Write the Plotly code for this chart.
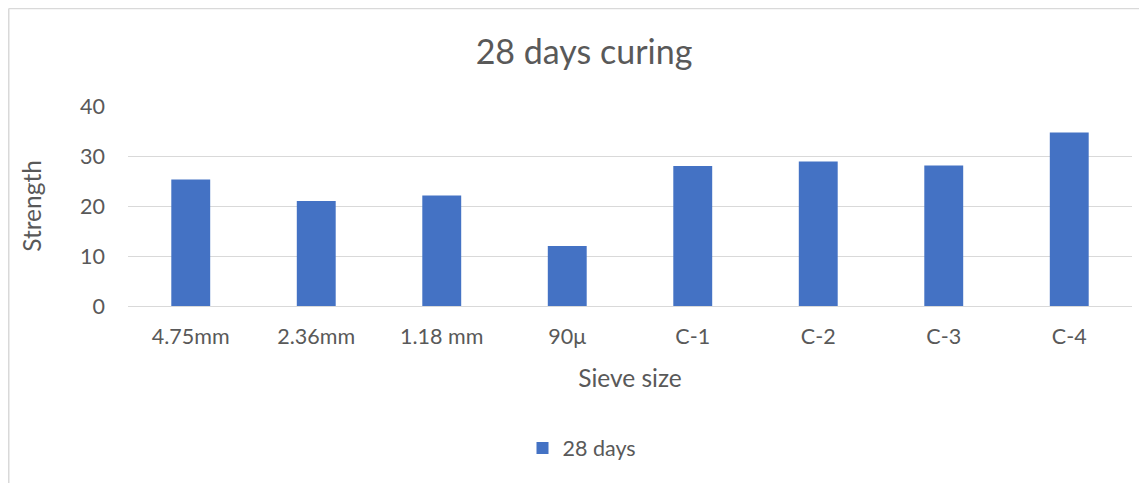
import plotly.graph_objects as go

categories = ["4.75mm", "2.36mm", "1.18 mm", "90\u03bc", "C-1", "C-2", "C-3", "C-4"]
strength_28_days = [25.3, 21.0, 22.1, 12.0, 28.0, 28.9, 28.1, 34.7]
y_ticks = [0, 10, 20, 30, 40]

# the page body adds an 8px margin, so the figure is sized/positioned in figure pixels
W, H = 1139, 475
L, R, T, B = 120, 1124, 98, 298
FONT = "Lato"
TXT = "#595959"

fig = go.Figure()
fig.add_trace(go.Bar(
    x=categories, y=strength_28_days, name="28 days",
    marker=dict(color="#4472C4", line=dict(width=0)),
    width=0.31,
))

def px_x(p):
    return (p - L) / (R - L)

def px_y(p):
    return (B - p) / (B - T)

fig.update_layout(
    width=W, height=H,
    margin=dict(l=L, r=W - R, t=T, b=H - B, pad=0),
    paper_bgcolor="white", plot_bgcolor="white",
    font=dict(family=FONT, color=TXT),
    title=dict(text="28 days curing", x=576 / W, xref="container", xanchor="center",
               y=1 - 44 / H, yref="container", yanchor="middle",
               font=dict(size=34, color=TXT, family=FONT)),
    showlegend=True,
    legend=dict(orientation="h", x=px_x(574), xanchor="center", y=px_y(440), yanchor="middle",
                font=dict(size=21.5, color=TXT), itemwidth=30, bgcolor="rgba(0,0,0,0)"),
    bargap=0.69,
)
fig.update_xaxes(
    showgrid=False, showline=True, linecolor="#D9D9D9", linewidth=1,
    tickfont=dict(size=21.5, color=TXT), ticks="", ticklabelstandoff=11,
    title=dict(text="Sieve size", font=dict(size=24.5, color=TXT), standoff=22),
)
fig.update_yaxes(
    range=[0, 40], tickvals=y_ticks, showgrid=True, gridcolor="#D9D9D9", gridwidth=1,
    zeroline=False, showline=False, tickfont=dict(size=21.5, color=TXT), ticks="",
    ticklabelstandoff=22,
    title=dict(text="Strength", font=dict(size=24.5, color=TXT), standoff=31),
)

# chart border (left and top edges visible)
fig.add_shape(type="line", xref="paper", yref="paper",
              x0=px_x(0.75), x1=px_x(0.75), y0=px_y(0.5), y1=px_y(490),
              line=dict(color="#D9D9D9", width=1.5))
fig.add_shape(type="line", xref="paper", yref="paper",
              x0=px_x(0.75), x1=px_x(1160), y0=px_y(0.5), y1=px_y(0.5),
              line=dict(color="#D9D9D9", width=1.5))

fig.write_html("out.html")
